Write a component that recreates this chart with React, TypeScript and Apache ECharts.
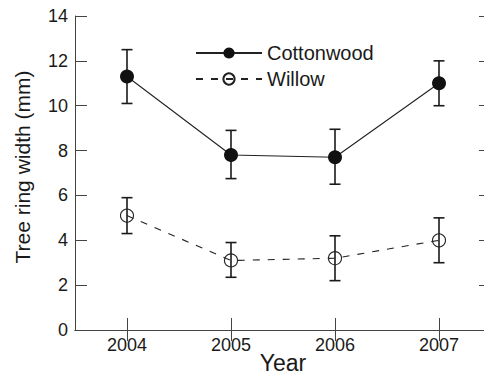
import React, { useEffect, useRef } from "react";
import * as echarts from "echarts";

const years = [2004, 2005, 2006, 2007];
const cottonwood = [11.3, 7.8, 7.7, 11.0];
const cottonwoodLow = [10.1, 6.75, 6.5, 10.0];
const cottonwoodHigh = [12.5, 8.9, 8.95, 12.0];
const willow = [5.1, 3.1, 3.2, 4.0];
const willowLow = [4.3, 2.35, 2.2, 3.0];
const willowHigh = [5.9, 3.9, 4.2, 5.0];
const yTicks = [0, 2, 4, 6, 8, 10, 12, 14];

const FONT = "'Liberation Sans', Arial, Helvetica, sans-serif";
const INK = "#1a1a1a";

export default function App() {
  const ref = useRef<HTMLDivElement>(null);
  useEffect(() => {
    if (!ref.current) return;
    const chart = echarts.init(ref.current, null, { renderer: "svg" });

    const errData = [
      ...years.map((y, i) => [y, cottonwoodLow[i], cottonwoodHigh[i]]),
      ...years.map((y, i) => [y, willowLow[i], willowHigh[i]]),
    ];

    const renderErr = (params: any, api: any) => {
      const x = api.value(0);
      const lo = api.coord([x, api.value(1)]);
      const hi = api.coord([x, api.value(2)]);
      const half = 5.5;
      const style = { stroke: INK, lineWidth: 1.6, fill: null };
      return {
        type: "group",
        children: [
          { type: "line", shape: { x1: lo[0], y1: lo[1], x2: hi[0], y2: hi[1] }, style },
          { type: "line", shape: { x1: lo[0] - half, y1: lo[1], x2: lo[0] + half, y2: lo[1] }, style },
          { type: "line", shape: { x1: hi[0] - half, y1: hi[1], x2: hi[0] + half, y2: hi[1] }, style },
        ],
      };
    };

    const axisLine = { show: true, lineStyle: { color: "#444", width: 1 } };

    chart.setOption({
      animation: false,
      backgroundColor: "#fff",
      grid: { left: 75, top: 16, width: 416, height: 314, containLabel: false, outerBoundsMode: "none" },
      graphic: [
        {
          type: "text",
          x: 22,
          y: 167,
          rotation: Math.PI / 2,
          style: {
            text: "Tree ring width (mm)",
            fontFamily: FONT,
            fontSize: 21,
            fill: INK,
            align: "center",
            verticalAlign: "middle",
          },
        },
        {
          type: "text",
          x: 283,
          y: 363,
          style: {
            text: "Year",
            fontFamily: FONT,
            fontSize: 23,
            fill: INK,
            align: "center",
            verticalAlign: "middle",
          },
        },
      ],
      legend: {
        orient: "vertical",
        left: 190,
        top: 38,
        itemWidth: 66,
        itemHeight: 14,
        itemGap: 6,
        textStyle: { fontFamily: FONT, fontSize: 20, color: INK },
        data: ["Cottonwood", "Willow"],
      },
      xAxis: [
        {
          type: "value",
          min: 2003.5,
          max: 2007.5,
          axisLine,
          splitLine: { show: false },
          axisTick: { show: true, inside: true, length: 12, customValues: years, lineStyle: { color: "#444" } },
          axisLabel: {
            customValues: years,
            formatter: (v: number) => String(v),
            fontFamily: FONT,
            fontSize: 18,
            color: INK,
            margin: 6,
          },
        },
        {
          type: "value",
          position: "top",
          min: 2003.5,
          max: 2007.5,
          axisLine,
          splitLine: { show: false },
          axisTick: { show: true, inside: true, length: 11, customValues: years, lineStyle: { color: "#444" } },
          axisLabel: { show: false },
        },
      ],
      yAxis: [
        {
          type: "value",
          min: 0,
          max: 14,
          interval: 2,
          axisLine,
          splitLine: { show: false },
          axisTick: { show: true, inside: true, length: 12, lineStyle: { color: "#444" } },
          axisLabel: { fontFamily: FONT, fontSize: 18, color: INK, margin: 7, formatter: (v: number) => (yTicks.includes(v) ? String(v) : "") },
        },
        {
          type: "value",
          position: "right",
          min: 0,
          max: 14,
          interval: 2,
          axisLine,
          splitLine: { show: false },
          axisTick: { show: true, inside: true, length: 12, lineStyle: { color: "#444" } },
          axisLabel: { show: false },
        },
      ],
      series: [
        {
          type: "custom",
          name: "err",
          renderItem: renderErr,
          data: errData,
          z: 1,
          encode: { x: 0, y: [1, 2] },
        },
        {
          type: "line",
          name: "Cottonwood",
          data: years.map((y, i) => [y, cottonwood[i]]),
          symbol: "circle",
          symbolSize: 14,
          itemStyle: { color: "#111" },
          lineStyle: { color: "#222", width: 1.1, type: "solid" },
          z: 3,
        },
        {
          type: "line",
          name: "Willow",
          data: years.map((y, i) => [y, willow[i]]),
          symbol: "circle",
          symbolSize: 13,
          itemStyle: { color: "rgba(0,0,0,0)", borderColor: "#222", borderWidth: 1.1 },
          lineStyle: { color: "#222", width: 1.1, type: [7, 8] },
          z: 3,
        },
      ],
    });
    return () => chart.dispose();
  }, []);
  return (
    <div style={{ position: "fixed", left: 0, top: 0, width: 484, height: 375, overflow: "hidden" }}>
      <div ref={ref} style={{ width: 484, height: 375 }} />
    </div>
  );
}
